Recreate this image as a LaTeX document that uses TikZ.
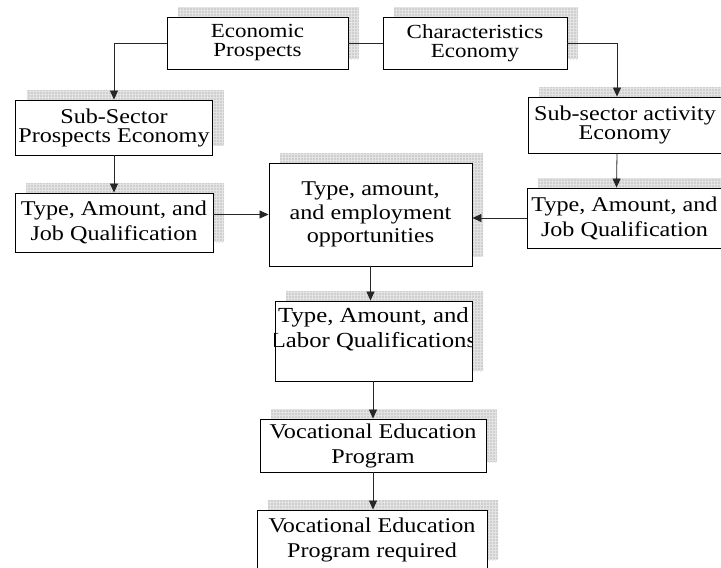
\documentclass[tikz,border=0pt]{standalone}
\usepackage{fontspec}
\setmainfont{Liberation Serif}[FakeStretch=1.15]
\usetikzlibrary{arrows.meta, positioning, patterns}

\tikzset{
  gridshadow/.style={
    preaction={fill=gray!38, transform canvas={shift={(11pt,10pt)}}},
    preaction={pattern=grid, pattern color=gray!22, transform canvas={shift={(11pt,10pt)}}}},
  chartbox/.style={draw=black, line width=0.9pt, fill=white, align=center,
    inner xsep=0pt, inner ysep=2pt, font=\fontsize{21}{25}\selectfont, gridshadow},
  topfont/.style={font=\fontsize{20}{19}\selectfont},
  subfont/.style={font=\fontsize{21}{19}\selectfont},
  midfont/.style={font=\fontsize{21}{23.5}\selectfont},
  link/.style={draw=black!85, line width=0.8pt},
  flow/.style={link, -{Triangle[width=8pt,length=9pt]}},
}

\begin{document}
\begin{tikzpicture}[x=1pt, y=-1pt]
  \useasboundingbox (0,0) rectangle (721,568);
  \clip (0,0) rectangle (721,568);

  % Top row
  \node[chartbox, topfont, minimum width=181pt, minimum height=52pt] (eco) at (257.5,43) {Economic\\Prospects};
  \node[chartbox, topfont, minimum width=184pt, minimum height=52pt] (char) at (475,43) {Characteristics\\Economy};

  % Left branch
  \node[chartbox, subfont, minimum width=197pt, minimum height=55pt] (subL) at (114,127.5) {Sub-Sector\\Prospects Economy};
  \node[chartbox, minimum width=198pt, minimum height=59pt] (typeL) at (114,222.5) {Type, Amount, and\\Job Qualification};

  % Right branch
  \node[chartbox, subfont, minimum width=194pt, minimum height=56pt] (subR) at (625,125) {Sub-sector activity\\Economy};
  \node[chartbox, minimum width=195pt, minimum height=60pt] (typeR) at (624.5,218) {Type, Amount, and\\Job Qualification};

  % Middle column
  \node[chartbox, midfont, minimum width=203pt, minimum height=103pt] (emp) at (370.5,214.5) {Type, amount,\\and employment\\opportunities};
  \node[chartbox, minimum width=197pt, minimum height=80pt] (labor) at (373.5,341) {};
  \begin{scope}
    \clip (labor.south west) rectangle (labor.north east);
    \node[font=\fontsize{21.5}{25}\selectfont, align=center, inner sep=0pt, below=7pt of labor.north] (labortxt) {Type, Amount, and\\Labor Qualifications};
  \end{scope}
  \node[chartbox, minimum width=226pt, minimum height=53pt] (voc) at (373,445.5) {Vocational Education\\Program};
  \node[chartbox, minimum width=230pt, minimum height=60pt] (req) at (372,540) {Vocational Education\\Program required};

  % Connectors
  \draw[link] (eco.east) -- (char.west);
  \draw[flow] (eco.west) -| (subL.north);
  \draw[flow] (char.east) -| ([xshift=-8pt]subR.north);
  \draw[flow] (subL.south) -- (typeL.north);
  \draw[flow] ([xshift=-8pt]subR.south) -- ([xshift=-8pt]typeR.north);
  \draw[flow] (typeL.east |- emp.west) -- (emp.west);
  \draw[flow] (typeR.west) -- (typeR.west -| emp.east);
  \draw[flow] (emp.south) -- (emp.south |- labor.north);
  \draw[flow] (labor.south -| voc.north) -- (voc.north);
  \draw[flow] (voc.south) -- (voc.south |- req.north);
\end{tikzpicture}
\end{document}
